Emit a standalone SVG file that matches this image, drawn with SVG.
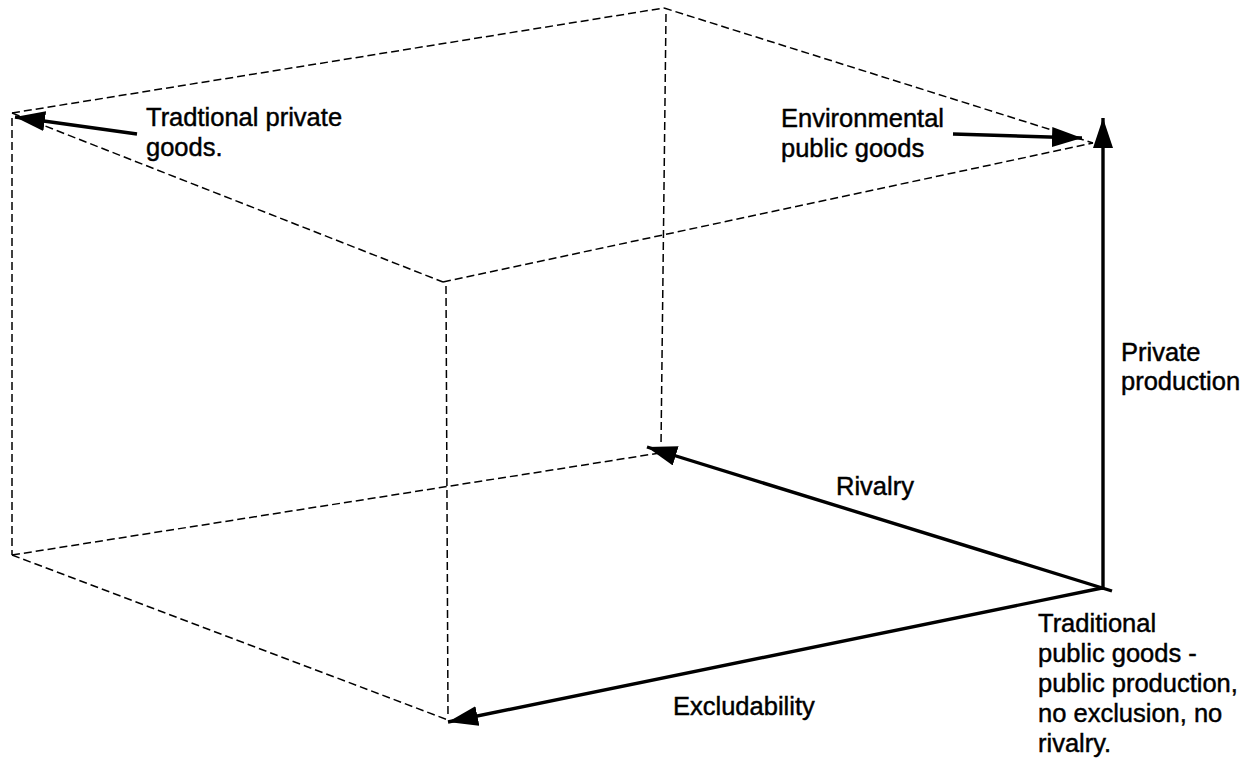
<svg xmlns="http://www.w3.org/2000/svg" width="1256" height="763" viewBox="0 0 1256 763">
<style>
.dash{fill:none;stroke:#000;stroke-width:1.5;stroke-dasharray:8 4}
.axis{fill:none;stroke:#000;stroke-width:3.4}
.lbl{font-family:"Liberation Sans",Arial,sans-serif;font-size:25.5px;fill:#000;stroke:#000;stroke-width:0.45}
</style>
<defs>
<marker id="ah" viewBox="0 0 30 20" refX="30" refY="10" markerWidth="30" markerHeight="20" markerUnits="userSpaceOnUse" orient="auto">
<path d="M0,0 L30,10 L0,20 Z" fill="#000"/>
</marker>
</defs>
<rect width="1256" height="763" fill="#fff"/>
<g id="cube-edges">
<line class="dash" x1="12" y1="113" x2="664" y2="8"/>
<line class="dash" x1="664" y1="8" x2="1093" y2="143"/>
<line class="dash" x1="12" y1="113" x2="443" y2="282"/>
<line class="dash" x1="443" y1="282" x2="1093" y2="143"/>
<line class="dash" x1="12" y1="118" x2="12" y2="555"/>
<line class="dash" x1="666" y1="14" x2="661" y2="446"/>
<line class="dash" x1="446" y1="286" x2="448" y2="718"/>
<line class="dash" x1="12" y1="555" x2="660" y2="453"/>
<line class="dash" x1="12" y1="555" x2="448" y2="720"/>
</g>
<g id="connectors">
<line class="axis" x1="1103" y1="590" x2="1103" y2="118" marker-end="url(#ah)"/>
<line class="axis" x1="1112" y1="591" x2="647" y2="447" marker-end="url(#ah)"/>
<line class="axis" x1="1102" y1="588" x2="448" y2="722" marker-end="url(#ah)"/>
<line class="axis" x1="953" y1="134" x2="1082" y2="138" marker-end="url(#ah)"/>
<line class="axis" x1="137" y1="134" x2="15" y2="117" marker-end="url(#ah)"/>
</g>
<g id="node-traditional-private">
<text class="lbl" x="146" y="126">Tradtional private</text>
<text class="lbl" x="146" y="156">goods.</text>
</g>
<g id="node-environmental">
<text class="lbl" x="781" y="127">Environmental</text>
<text class="lbl" x="781" y="157">public goods</text>
</g>
<g id="node-private-production">
<text class="lbl" x="1121" y="361">Private</text>
<text class="lbl" x="1121" y="390">production</text>
</g>
<g id="node-rivalry">
<text class="lbl" x="836" y="495">Rivalry</text>
</g>
<g id="node-excludability">
<text class="lbl" x="673" y="715">Excludability</text>
</g>
<g id="node-traditional-public">
<text class="lbl" x="1038" y="632">Traditional</text>
<text class="lbl" x="1038" y="662">public goods -</text>
<text class="lbl" x="1038" y="692">public production,</text>
<text class="lbl" x="1038" y="722">no exclusion, no</text>
<text class="lbl" x="1038" y="752">rivalry.</text>
</g>
</svg>
